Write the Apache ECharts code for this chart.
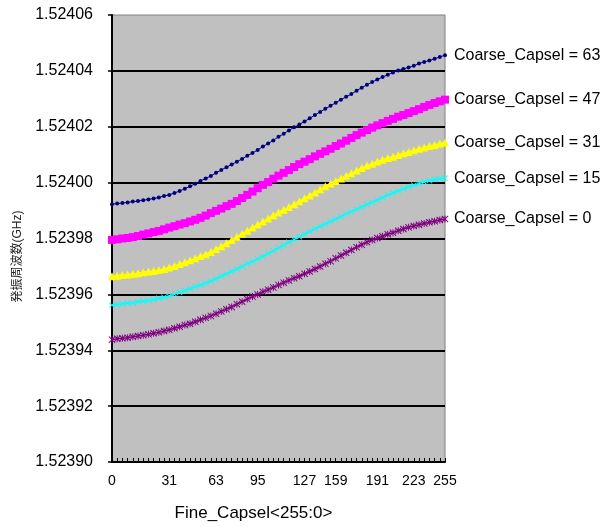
<!DOCTYPE html>
<html>
<head>
<meta charset="utf-8">
<script src="https://cdn.jsdelivr.net/npm/echarts@6/dist/echarts.min.js"></script>
<style>
  html, body { margin: 0; padding: 0; background: #fff; }
  #chart { width: 614px; height: 527px; }
</style>
</head>
<body>
<div id="chart"></div>
<script>
// Fine capacitor select codes (x categories)
const fineCodes = [0,4,8,12,16,20,24,28,32,36,40,44,48,52,56,60,64,68,72,76,80,84,88,92,96,100,
  104,108,112,116,120,124,128,132,136,140,144,148,152,156,160,164,168,172,176,180,184,188,192,196,
  200,204,208,212,216,220,224,228,232,236,240,244,248,252,255];

// Labels printed under the x axis and the category index each sits on
const xTickLabels = ['0','31','63','95','127','159','191','223','255'];
const xTickIndex  = [0, 11, 20, 28, 37, 43, 51, 58, 64];

// Y axis range
const yMin = 1.52390, yMax = 1.52406, yStep = 0.00002;

// Measured values per coarse setting
const coarse63 = [1.5239923,1.5239925,1.5239927,1.5239929,1.5239932,1.5239934,1.5239937,1.5239940,1.5239943,1.5239947,
  1.5239952,1.5239956,1.5239963,1.5239970,1.5239978,1.5239987,1.5239996,1.5240006,1.5240015,1.5240024,
  1.5240035,1.5240045,1.5240055,1.5240065,1.5240075,1.5240085,1.5240096,1.5240106,1.5240117,1.5240129,
  1.5240140,1.5240151,1.5240164,1.5240175,1.5240187,1.5240198,1.5240208,1.5240219,1.5240230,1.5240242,
  1.5240253,1.5240264,1.5240275,1.5240286,1.5240297,1.5240307,1.5240317,1.5240329,1.5240340,1.5240350,
  1.5240360,1.5240369,1.5240378,1.5240386,1.5240394,1.5240401,1.5240407,1.5240412,1.5240418,1.5240426,
  1.5240432,1.5240437,1.5240443,1.5240450,1.5240456];

const coarse47 = [1.5239795,1.5239797,1.5239800,1.5239802,1.5239805,1.5239809,1.5239814,1.5239818,1.5239823,1.5239827,
  1.5239833,1.5239839,1.5239844,1.5239850,1.5239855,1.5239861,1.5239867,1.5239874,1.5239882,1.5239891,
  1.5239899,1.5239907,1.5239916,1.5239924,1.5239934,1.5239945,1.5239956,1.5239968,1.5239980,1.5239992,
  1.5240002,1.5240014,1.5240025,1.5240035,1.5240045,1.5240056,1.5240066,1.5240075,1.5240084,1.5240094,
  1.5240103,1.5240112,1.5240121,1.5240131,1.5240140,1.5240150,1.5240160,1.5240170,1.5240179,1.5240188,
  1.5240197,1.5240205,1.5240213,1.5240221,1.5240228,1.5240236,1.5240242,1.5240249,1.5240256,1.5240263,
  1.5240271,1.5240278,1.5240285,1.5240291,1.5240297];

const coarse31 = [1.5239665,1.5239667,1.5239669,1.5239671,1.5239673,1.5239676,1.5239679,1.5239682,1.5239684,1.5239687,
  1.5239691,1.5239696,1.5239702,1.5239709,1.5239715,1.5239722,1.5239729,1.5239737,1.5239744,1.5239752,
  1.5239762,1.5239772,1.5239783,1.5239795,1.5239806,1.5239817,1.5239828,1.5239839,1.5239850,1.5239861,
  1.5239872,1.5239883,1.5239893,1.5239903,1.5239913,1.5239923,1.5239933,1.5239944,1.5239954,1.5239965,
  1.5239976,1.5239987,1.5239997,1.5240006,1.5240015,1.5240025,1.5240034,1.5240043,1.5240052,1.5240061,
  1.5240068,1.5240076,1.5240082,1.5240088,1.5240093,1.5240099,1.5240105,1.5240110,1.5240116,1.5240121,
  1.5240126,1.5240131,1.5240135,1.5240140,1.5240144];

const coarse15 = [1.5239561,1.5239564,1.5239566,1.5239568,1.5239570,1.5239573,1.5239576,1.5239578,1.5239582,1.5239586,
  1.5239590,1.5239594,1.5239601,1.5239607,1.5239614,1.5239620,1.5239627,1.5239633,1.5239640,1.5239648,
  1.5239656,1.5239665,1.5239673,1.5239682,1.5239691,1.5239700,1.5239710,1.5239717,1.5239727,1.5239736,
  1.5239746,1.5239756,1.5239766,1.5239776,1.5239787,1.5239796,1.5239806,1.5239816,1.5239825,1.5239835,
  1.5239844,1.5239852,1.5239861,1.5239870,1.5239878,1.5239888,1.5239896,1.5239905,1.5239913,1.5239922,
  1.5239930,1.5239938,1.5239947,1.5239955,1.5239963,1.5239970,1.5239978,1.5239985,1.5239991,1.5239997,
  1.5240002,1.5240007,1.5240011,1.5240014,1.5240016];

const coarse0 = [1.5239438,1.5239441,1.5239443,1.5239445,1.5239448,1.5239451,1.5239454,1.5239457,1.5239461,1.5239464,
  1.5239469,1.5239473,1.5239479,1.5239484,1.5239490,1.5239495,1.5239502,1.5239509,1.5239516,1.5239523,
  1.5239531,1.5239539,1.5239547,1.5239555,1.5239565,1.5239574,1.5239583,1.5239592,1.5239600,1.5239609,
  1.5239617,1.5239625,1.5239634,1.5239642,1.5239650,1.5239658,1.5239665,1.5239674,1.5239682,1.5239691,
  1.5239700,1.5239710,1.5239719,1.5239729,1.5239739,1.5239749,1.5239759,1.5239769,1.5239778,1.5239787,
  1.5239795,1.5239802,1.5239808,1.5239815,1.5239821,1.5239828,1.5239834,1.5239840,1.5239845,1.5239849,
  1.5239854,1.5239858,1.5239862,1.5239866,1.5239870];

const seriesNames = ['Coarse_Capsel = 63','Coarse_Capsel = 47','Coarse_Capsel = 31','Coarse_Capsel = 15','Coarse_Capsel = 0'];

const xName = 'Fine_Capsel<255:0>';
const yName = '発振周波数(GHz)';

// marker shapes
const crossPath = 'path://M0,1L1,0L5,4L9,0L10,1L6,5L10,9L9,10L5,6L1,10L0,9L4,5Z';
const starPath = 'path://M0,1L1,0L5,4L9,0L10,1L6,5L10,9L9,10L5,6L1,10L0,9L4,5Z M4.3,0H5.7V10H4.3Z';

const sans = "'Liberation Sans', Arial, 'Noto Sans CJK JP', sans-serif";

function makeSeries(name, data, color, symbol, size, lineWidth) {
  return {
    name, type: 'line', data,
    symbol, symbolSize: size, showAllSymbol: true, showSymbol: true,
    lineStyle: { color, width: lineWidth },
    itemStyle: { color, borderWidth: 0 },
    z: 3,
    endLabel: {
      show: true,
      formatter: p => p.seriesName,
      distance: 9,
      color: '#000',
      fontSize: 16,
      fontFamily: sans
    },
    emphasis: { disabled: true }
  };
}

const chart = echarts.init(document.getElementById('chart'), null, { renderer: 'canvas' });
chart.setOption({
  animation: false,
  backgroundColor: '#fff',
  grid: {
    left: 112, top: 15, right: 169, bottom: 63,
    show: true, backgroundColor: '#C0C0C0', borderColor: '#808080', borderWidth: 1
  },
  xAxis: {
    type: 'category',
    data: fineCodes,
    boundaryGap: false,
    name: xName,
    nameLocation: 'middle',
    nameGap: 43,
    nameTextStyle: { fontFamily: sans, fontSize: 17, color: '#000', padding: [0, 50, 0, 0] },
    axisLine: { lineStyle: { color: '#000', width: 2 } },
    axisTick: { show: true, inside: true, length: 4, interval: 0, lineStyle: { color: '#000', width: 1 } },
    axisLabel: {
      interval: (idx) => xTickIndex.indexOf(idx) >= 0,
      formatter: (val, idx) => xTickLabels[xTickIndex.indexOf(idx)],
      fontFamily: sans, fontSize: 14, color: '#000', margin: 12
    },
    splitLine: { show: false }
  },
  yAxis: {
    type: 'value',
    min: yMin, max: yMax, interval: yStep,
    name: yName,
    nameLocation: 'middle',
    nameRotate: 90,
    nameGap: 88,
    nameTextStyle: { fontFamily: sans, fontSize: 12, color: '#222', padding: [0, 36, 0, 0] },
    axisLine: { show: true, lineStyle: { color: '#000', width: 2 } },
    axisTick: { show: true, inside: false, length: 4, lineStyle: { color: '#000', width: 1.5 } },
    axisLabel: {
      formatter: v => v.toFixed(5),
      fontFamily: sans, fontSize: 16, color: '#000', margin: 19
    },
    splitLine: { show: true, showMinLine: false, showMaxLine: false, lineStyle: { color: '#000', width: 2 } }
  },
  series: [
    makeSeries(seriesNames[4], coarse0, '#800080', starPath, 7, 1.5),
    makeSeries(seriesNames[3], coarse15, '#00FFFF', crossPath, 6, 1.5),
    makeSeries(seriesNames[2], coarse31, '#FFFF00', 'triangle', 8, 1.5),
    makeSeries(seriesNames[1], coarse47, '#FF00FF', 'rect', 8, 2),
    makeSeries(seriesNames[0], coarse63, '#000080', 'circle', 4, 1)
  ]
});
</script>
</body>
</html>
